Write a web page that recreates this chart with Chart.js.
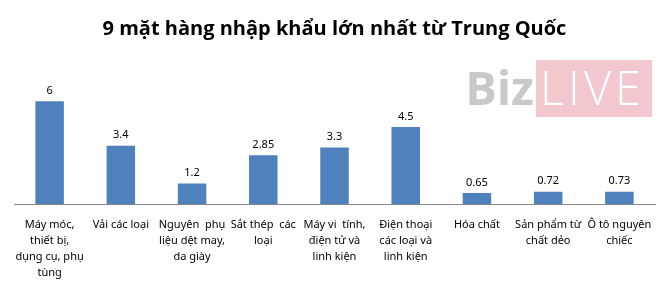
<!DOCTYPE html>
<html>
<head>
<meta charset="utf-8">
<script src="https://cdn.jsdelivr.net/npm/chart.js@4"></script>
<style>
  body { margin: 0; background: #fff; }
  #wrap { width: 670px; height: 288px; }
</style>
</head>
<body>
<div id="wrap"><canvas id="importsChart"></canvas></div>
<script>
const categories = [
    ["Máy móc,", "thiết bị,", "dụng cụ, phụ", "tùng"],
    ["Vải các loại"],
    ["Nguyên  phụ", "liệu dệt may,", "da giày"],
    ["Sắt thép  các", "loại"],
    ["Máy vi  tính,", "điện tử và", "linh kiện"],
    ["Điện thoại", "các loại và", "linh kiện"],
    ["Hóa chất"],
    ["Sản phẩm từ", "chất dẻo"],
    ["Ô tô nguyên", "chiếc"]
];
const values = [6, 3.4, 1.2, 2.85, 3.3, 4.5, 0.65, 0.72, 0.73];
const valueLabels = ["6", "3.4", "1.2", "2.85", "3.3", "4.5", "0.65", "0.72", "0.73"];

// watermark drawn behind the bars
const watermark = {
    id: 'watermark',
    beforeDatasetsDraw(chart) {
        const ctx = chart.ctx;
        ctx.save();
        ctx.fillStyle = '#f2c8ce';
        ctx.fillRect(536, 60, 116, 57);
        ctx.font = 'bold 47px "Open Sans"';
        ctx.fillStyle = '#c9c9c9';
        ctx.textBaseline = 'alphabetic';
        ctx.textAlign = 'right';
        ctx.fillText('Biz', 534, 105);
        ctx.font = '300 47px "Open Sans"';
        ctx.fillStyle = '#ffffff';
        ctx.textAlign = 'left';
        ctx.letterSpacing = '4px';
        ctx.fillText('LIVE', 540, 105);
        ctx.restore();
    }
};

// numbers above each bar
const barValues = {
    id: 'barValues',
    afterDatasetsDraw(chart) {
        const ctx = chart.ctx;
        const meta = chart.getDatasetMeta(0);
        ctx.save();
        ctx.font = '11px "Noto Sans"';
        ctx.fillStyle = '#000';
        ctx.textAlign = 'center';
        ctx.textBaseline = 'bottom';
        meta.data.forEach((bar, i) => {
            ctx.fillText(valueLabels[i], bar.x, bar.y - 5);
        });
        ctx.restore();
    }
};

new Chart(document.getElementById('importsChart'), {
    type: 'bar',
    data: {
        labels: categories,
        datasets: [{
            data: values,
            backgroundColor: '#4f81bd',
            barPercentage: 0.4,
            categoryPercentage: 1
        }]
    },
    options: {
        responsive: true,
        maintainAspectRatio: false,
        animation: false,
        layout: { padding: { left: 14, right: 15, top: 0, bottom: 2 } },
        plugins: {
            legend: { display: false },
            tooltip: { enabled: false },
            title: {
                display: true,
                text: '9 mặt hàng nhập khẩu lớn nhất từ Trung Quốc',
                color: '#000',
                font: { family: '"Open Sans"', size: 20, weight: 'bold' },
                padding: { top: 17, bottom: 43 }
            }
        },
        scales: {
            x: {
                grid: { display: false },
                border: { color: '#868686', width: 1 },
                ticks: {
                    color: '#000',
                    font: { family: '"Noto Sans"', size: 11, lineHeight: 1.45 },
                    maxRotation: 0,
                    autoSkip: false,
                    padding: 5
                }
            },
            y: {
                display: false,
                min: 0,
                max: 7
            }
        }
    },
    plugins: [watermark, barValues]
});
</script>
</body>
</html>
